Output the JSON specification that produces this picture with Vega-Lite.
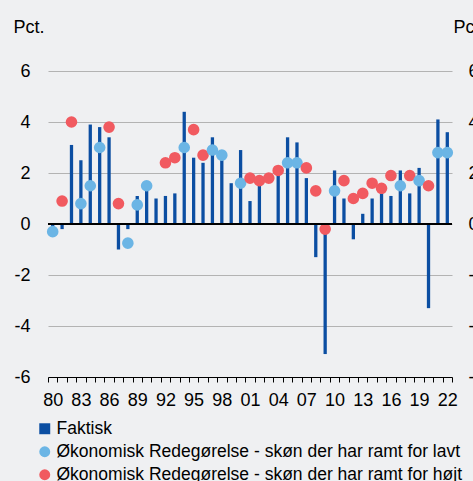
{
  "$schema": "https://vega.github.io/schema/vega-lite/v6.json",
  "autosize": "none",
  "width": 404,
  "height": 306,
  "padding": {"left": 48, "top": 71, "right": 21, "bottom": 104},
  "background": "#eff0f2",
  "config": {
    "view": {"stroke": null},
    "font": "Liberation Sans",
    "axis": {"labelFont": "Liberation Sans", "titleFont": "Liberation Sans", "labelColor": "#000000", "titleColor": "#000000"}
  },
  "data": {
    "values": [
      {"year": 1980, "series": "Faktisk", "value": -0.4},
      {"year": 1981, "series": "Faktisk", "value": -0.2},
      {"year": 1982, "series": "Faktisk", "value": 3.1},
      {"year": 1983, "series": "Faktisk", "value": 2.5},
      {"year": 1984, "series": "Faktisk", "value": 3.9},
      {"year": 1985, "series": "Faktisk", "value": 3.8},
      {"year": 1986, "series": "Faktisk", "value": 3.4},
      {"year": 1987, "series": "Faktisk", "value": -1.0},
      {"year": 1988, "series": "Faktisk", "value": -0.2},
      {"year": 1989, "series": "Faktisk", "value": 1.1},
      {"year": 1990, "series": "Faktisk", "value": 1.5},
      {"year": 1991, "series": "Faktisk", "value": 1.0},
      {"year": 1992, "series": "Faktisk", "value": 1.1},
      {"year": 1993, "series": "Faktisk", "value": 1.2},
      {"year": 1994, "series": "Faktisk", "value": 4.4},
      {"year": 1995, "series": "Faktisk", "value": 2.6},
      {"year": 1996, "series": "Faktisk", "value": 2.4},
      {"year": 1997, "series": "Faktisk", "value": 3.4},
      {"year": 1998, "series": "Faktisk", "value": 2.5},
      {"year": 1999, "series": "Faktisk", "value": 1.6},
      {"year": 2000, "series": "Faktisk", "value": 2.9},
      {"year": 2001, "series": "Faktisk", "value": 0.9},
      {"year": 2002, "series": "Faktisk", "value": 1.5},
      {"year": 2003, "series": "Faktisk", "value": 0.0},
      {"year": 2004, "series": "Faktisk", "value": 2.0},
      {"year": 2005, "series": "Faktisk", "value": 3.4},
      {"year": 2006, "series": "Faktisk", "value": 3.2},
      {"year": 2007, "series": "Faktisk", "value": 1.8},
      {"year": 2008, "series": "Faktisk", "value": -1.3},
      {"year": 2009, "series": "Faktisk", "value": -5.1},
      {"year": 2010, "series": "Faktisk", "value": 2.1},
      {"year": 2011, "series": "Faktisk", "value": 1.0},
      {"year": 2012, "series": "Faktisk", "value": -0.6},
      {"year": 2013, "series": "Faktisk", "value": 0.4},
      {"year": 2014, "series": "Faktisk", "value": 1.0},
      {"year": 2015, "series": "Faktisk", "value": 1.2},
      {"year": 2016, "series": "Faktisk", "value": 1.1},
      {"year": 2017, "series": "Faktisk", "value": 2.1},
      {"year": 2018, "series": "Faktisk", "value": 1.2},
      {"year": 2019, "series": "Faktisk", "value": 2.2},
      {"year": 2020, "series": "Faktisk", "value": -3.3},
      {"year": 2021, "series": "Faktisk", "value": 4.1},
      {"year": 2022, "series": "Faktisk", "value": 3.6},
      {"year": 1980, "series": "lavt", "value": -0.3},
      {"year": 1981, "series": "højt", "value": 0.9},
      {"year": 1982, "series": "højt", "value": 4.0},
      {"year": 1983, "series": "lavt", "value": 0.8},
      {"year": 1984, "series": "lavt", "value": 1.5},
      {"year": 1985, "series": "lavt", "value": 3.0},
      {"year": 1986, "series": "højt", "value": 3.8},
      {"year": 1987, "series": "højt", "value": 0.8},
      {"year": 1988, "series": "lavt", "value": -0.75},
      {"year": 1989, "series": "lavt", "value": 0.75},
      {"year": 1990, "series": "lavt", "value": 1.5},
      {"year": 1992, "series": "højt", "value": 2.4},
      {"year": 1993, "series": "højt", "value": 2.6},
      {"year": 1994, "series": "lavt", "value": 3.0},
      {"year": 1995, "series": "højt", "value": 3.7},
      {"year": 1996, "series": "højt", "value": 2.7},
      {"year": 1997, "series": "lavt", "value": 2.9},
      {"year": 1998, "series": "lavt", "value": 2.7},
      {"year": 2000, "series": "lavt", "value": 1.6},
      {"year": 2001, "series": "højt", "value": 1.8},
      {"year": 2002, "series": "højt", "value": 1.7},
      {"year": 2003, "series": "højt", "value": 1.8},
      {"year": 2004, "series": "højt", "value": 2.1},
      {"year": 2005, "series": "lavt", "value": 2.4},
      {"year": 2006, "series": "lavt", "value": 2.4},
      {"year": 2007, "series": "højt", "value": 2.2},
      {"year": 2008, "series": "højt", "value": 1.3},
      {"year": 2009, "series": "højt", "value": -0.2},
      {"year": 2010, "series": "lavt", "value": 1.3},
      {"year": 2011, "series": "højt", "value": 1.7},
      {"year": 2012, "series": "højt", "value": 1.0},
      {"year": 2013, "series": "højt", "value": 1.2},
      {"year": 2014, "series": "højt", "value": 1.6},
      {"year": 2015, "series": "højt", "value": 1.4},
      {"year": 2016, "series": "højt", "value": 1.9},
      {"year": 2017, "series": "lavt", "value": 1.5},
      {"year": 2018, "series": "højt", "value": 1.9},
      {"year": 2019, "series": "lavt", "value": 1.7},
      {"year": 2020, "series": "højt", "value": 1.5},
      {"year": 2021, "series": "lavt", "value": 2.8},
      {"year": 2022, "series": "lavt", "value": 2.8}
    ]
  },
  "resolve": {"axis": {"y": "independent"}},
  "layer": [
    {
      "transform": [{"filter": "datum.series === 'Faktisk'"}],
      "mark": {"type": "bar", "width": {"band": 0.35}},
      "encoding": {
        "x": {
          "field": "year", "type": "ordinal",
          "scale": {"paddingInner": 0, "paddingOuter": 0},
          "axis": {
            "title": null, "orient": "bottom", "domainColor": "#000000", "domainWidth": 1,
            "tickColor": "#000000", "tickSize": 5, "tickBand": "extent",
            "labelAngle": 0, "labelFontSize": 18, "labelPadding": 9, "grid": false,
            "labelExpr": "(datum.value - 1980) % 3 === 0 ? substring(toString(datum.value), 2, 4) : ''"
          }
        },
        "y": {
          "field": "value", "type": "quantitative",
          "scale": {"domain": [-6, 6], "nice": false},
          "axis": {
            "orient": "left", "values": [-6, -4, -2, 0, 2, 4, 6],
            "labelExpr": "toString(datum.value)",
            "domain": false, "ticks": false, "tickSize": 0, "labelPadding": 18, "labelFontSize": 18,
            "grid": true, "gridColor": "#b3b3b3", "gridWidth": 1,
            "title": "Pct.", "titleAngle": 0, "titleAlign": "left", "titleBaseline": "alphabetic",
            "titleX": -35, "titleY": -39, "titleFontSize": 18, "titleFontWeight": "normal"
          }
        },
        "color": {
          "field": "series", "type": "nominal",
          "scale": {
            "domain": ["Faktisk", "lavt", "højt"],
            "range": ["#0b4ea2", "#6bb5e5", "#f15a60"]
          },
          "legend": {
            "title": null, "orient": "none", "legendX": -12, "legendY": 349,
            "direction": "vertical", "columns": 1,
            "labelFontSize": 17.5, "labelFont": "Liberation Sans", "labelColor": "#000000",
            "labelLimit": 800, "labelOffset": 3, "rowPadding": 4, "symbolSize": 120,
            "labelExpr": "datum.value === 'Faktisk' ? 'Faktisk' : (datum.value === 'lavt' ? 'Økonomisk Redegørelse - skøn der har ramt for lavt' : 'Økonomisk Redegørelse - skøn der har ramt for højt')",
            "encode": {
              "symbols": {
                "update": {
                  "shape": {"signal": "datum.value === 'Faktisk' ? 'square' : 'circle'"},
                  "strokeWidth": {"value": 0}
                }
              }
            }
          }
        }
      }
    },
    {
      "transform": [{"filter": "datum.series !== 'Faktisk'"}],
      "mark": {"type": "circle", "size": 135, "opacity": 1},
      "encoding": {
        "x": {"field": "year", "type": "ordinal"},
        "y": {
          "field": "value", "type": "quantitative",
          "axis": {
            "orient": "right", "values": [-6, -4, -2, 0, 2, 4, 6],
            "labelExpr": "toString(datum.value)",
            "domain": false, "ticks": false, "tickSize": 0, "labelPadding": 16, "labelFontSize": 18,
            "labelAlign": "left", "grid": false,
            "title": "Pct.", "titleAngle": 0, "titleAlign": "left", "titleBaseline": "alphabetic",
            "titleX": 1, "titleY": -39, "titleFontSize": 18, "titleFontWeight": "normal"
          }
        },
        "color": {"field": "series", "type": "nominal"}
      }
    },
    {
      "transform": [{"filter": "datum.series === 'Faktisk' && datum.year === 1980"}],
      "mark": {"type": "rule", "color": "#000000", "strokeWidth": 1.8},
      "encoding": {"y": {"datum": 0, "axis": null}}
    }
  ]
}
